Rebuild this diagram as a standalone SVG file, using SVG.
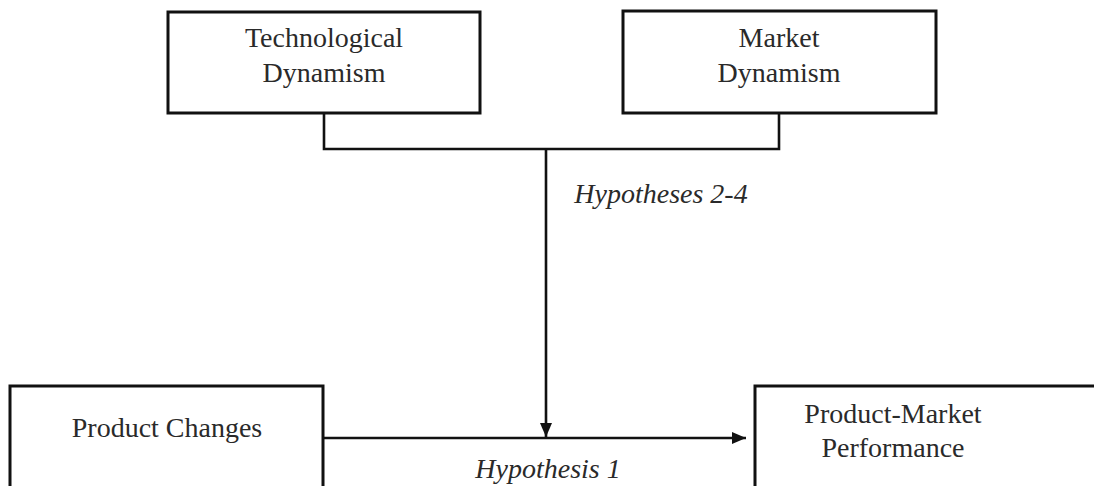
<svg xmlns="http://www.w3.org/2000/svg" width="1094" height="486" viewBox="0 0 1094 486">
<style>
.box{fill:#fff;stroke:#111;stroke-width:3}
.t{font-family:"Liberation Serif","Times New Roman",serif;font-size:28px;fill:#2a2a2a;text-anchor:middle}
.i{font-style:italic}
.c{fill:none;stroke:#111;stroke-width:2.6}
</style>
<defs>
<marker id="ah" viewBox="0 0 14 12" refX="14" refY="6" markerWidth="14" markerHeight="12" markerUnits="userSpaceOnUse" orient="auto">
<path d="M0,0 L14,6 L0,12 Z" fill="#111"/>
</marker>
</defs>
<rect width="1094" height="486" fill="#fff"/>
<g id="connectors">
<path class="c" d="M324,113 V149 H779 V113"/>
<path class="c" d="M546,149 V437" marker-end="url(#ah)"/>
<path class="c" d="M323,438 H746" marker-end="url(#ah)"/>
<text class="t i" x="661" y="203">Hypotheses 2-4</text>
<text class="t i" x="548" y="478">Hypothesis 1</text>
</g>
<g id="tech">
<rect class="box" x="168" y="12" width="312" height="101"/>
<text class="t" x="324" y="47">Technological</text>
<text class="t" x="324" y="82">Dynamism</text>
</g>
<g id="market">
<rect class="box" x="623" y="11" width="313" height="102"/>
<text class="t" x="779" y="47">Market</text>
<text class="t" x="779" y="82">Dynamism</text>
</g>
<g id="product">
<rect class="box" x="10" y="386" width="313" height="110"/>
<text class="t" x="167" y="437">Product Changes</text>
</g>
<g id="performance">
<rect class="box" x="755" y="386" width="350" height="110"/>
<text class="t" x="893" y="423">Product-Market</text>
<text class="t" x="893" y="457">Performance</text>
</g>
</svg>
